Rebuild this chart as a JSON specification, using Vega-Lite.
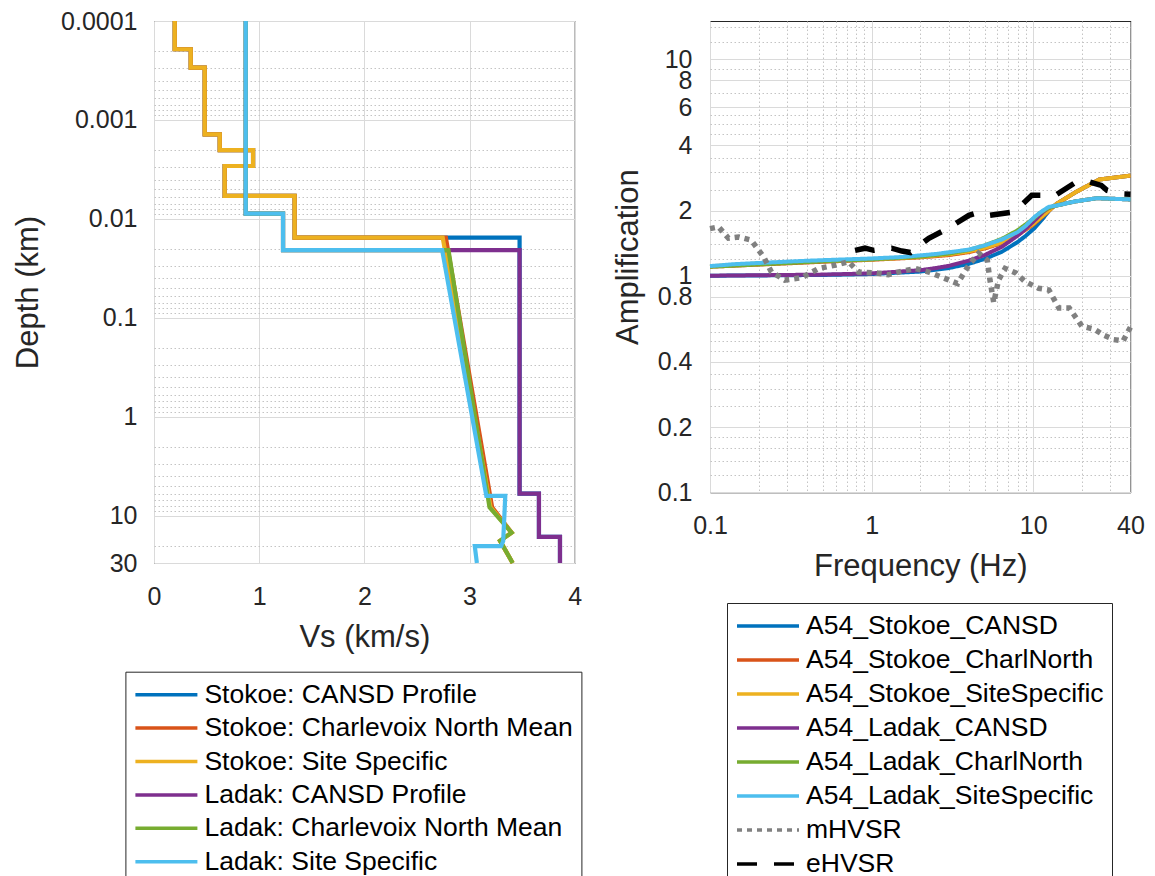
{
  "$schema": "https://vega.github.io/schema/vega-lite/v6.json",
  "background": "white",
  "padding": {"left": 12, "top": 8, "right": 5, "bottom": 0},
  "spacing": 135,
  "bounds": "flush",
  "config": {
    "font": "Liberation Sans",
    "view": {"stroke": "#262626", "strokeWidth": 1},
    "axis": {
      "labelFont": "Liberation Sans", "labelFontSize": 25, "labelColor": "#262626",
      "titleFont": "Liberation Sans", "titleFontSize": 31, "titleFontWeight": "normal", "titleColor": "#262626",
      "domain": false, "ticks": false, "tickSize": 0,
      "gridColor": "#dadada", "gridOpacity": 1, "gridWidth": 1,
      "labelOverlap": false, "labelFlush": false, "labelBound": false
    },
    "legend": {
      "labelFont": "Liberation Sans", "labelFontSize": 26.5, "labelColor": "#000000", "labelLimit": 0,
      "symbolType": "stroke", "symbolSize": 3844, "symbolStrokeWidth": 3.5,
      "clipHeight": 30, "rowPadding": 4, "padding": 8, "labelOffset": 5,
      "strokeColor": "#262626", "fillColor": "#ffffff"
    }
  },
  "datasets": {
    "prof": [
      {"p": "Stokoe: CANSD Profile", "i": 0, "vs": 0.197, "d": 0.0001},
      {"p": "Stokoe: CANSD Profile", "i": 1, "vs": 0.197, "d": 0.000193},
      {"p": "Stokoe: CANSD Profile", "i": 2, "vs": 0.349, "d": 0.000193},
      {"p": "Stokoe: CANSD Profile", "i": 3, "vs": 0.349, "d": 0.000296},
      {"p": "Stokoe: CANSD Profile", "i": 4, "vs": 0.482, "d": 0.000296},
      {"p": "Stokoe: CANSD Profile", "i": 5, "vs": 0.482, "d": 0.0014},
      {"p": "Stokoe: CANSD Profile", "i": 6, "vs": 0.625, "d": 0.0014},
      {"p": "Stokoe: CANSD Profile", "i": 7, "vs": 0.625, "d": 0.00202},
      {"p": "Stokoe: CANSD Profile", "i": 8, "vs": 0.942, "d": 0.00202},
      {"p": "Stokoe: CANSD Profile", "i": 9, "vs": 0.942, "d": 0.00292},
      {"p": "Stokoe: CANSD Profile", "i": 10, "vs": 0.672, "d": 0.00292},
      {"p": "Stokoe: CANSD Profile", "i": 11, "vs": 0.672, "d": 0.00586},
      {"p": "Stokoe: CANSD Profile", "i": 12, "vs": 1.337, "d": 0.00586},
      {"p": "Stokoe: CANSD Profile", "i": 13, "vs": 1.337, "d": 0.01545},
      {"p": "Stokoe: CANSD Profile", "i": 14, "vs": 3.476, "d": 0.01545},
      {"p": "Stokoe: CANSD Profile", "i": 15, "vs": 3.476, "d": 5.96},
      {"p": "Stokoe: CANSD Profile", "i": 16, "vs": 3.66, "d": 5.96},
      {"p": "Stokoe: CANSD Profile", "i": 17, "vs": 3.66, "d": 16.3},
      {"p": "Stokoe: CANSD Profile", "i": 18, "vs": 3.86, "d": 16.3},
      {"p": "Stokoe: CANSD Profile", "i": 19, "vs": 3.86, "d": 30},

      {"p": "Stokoe: Charlevoix North Mean", "i": 0, "vs": 0.197, "d": 0.0001},
      {"p": "Stokoe: Charlevoix North Mean", "i": 1, "vs": 0.197, "d": 0.000193},
      {"p": "Stokoe: Charlevoix North Mean", "i": 2, "vs": 0.349, "d": 0.000193},
      {"p": "Stokoe: Charlevoix North Mean", "i": 3, "vs": 0.349, "d": 0.000296},
      {"p": "Stokoe: Charlevoix North Mean", "i": 4, "vs": 0.482, "d": 0.000296},
      {"p": "Stokoe: Charlevoix North Mean", "i": 5, "vs": 0.482, "d": 0.0014},
      {"p": "Stokoe: Charlevoix North Mean", "i": 6, "vs": 0.625, "d": 0.0014},
      {"p": "Stokoe: Charlevoix North Mean", "i": 7, "vs": 0.625, "d": 0.00202},
      {"p": "Stokoe: Charlevoix North Mean", "i": 8, "vs": 0.942, "d": 0.00202},
      {"p": "Stokoe: Charlevoix North Mean", "i": 9, "vs": 0.942, "d": 0.00292},
      {"p": "Stokoe: Charlevoix North Mean", "i": 10, "vs": 0.672, "d": 0.00292},
      {"p": "Stokoe: Charlevoix North Mean", "i": 11, "vs": 0.672, "d": 0.00586},
      {"p": "Stokoe: Charlevoix North Mean", "i": 12, "vs": 1.337, "d": 0.00586},
      {"p": "Stokoe: Charlevoix North Mean", "i": 13, "vs": 1.337, "d": 0.01545},
      {"p": "Stokoe: Charlevoix North Mean", "i": 14, "vs": 2.775, "d": 0.01545},
      {"p": "Stokoe: Charlevoix North Mean", "i": 15, "vs": 3.215, "d": 8.2},
      {"p": "Stokoe: Charlevoix North Mean", "i": 16, "vs": 3.40, "d": 14.8},
      {"p": "Stokoe: Charlevoix North Mean", "i": 17, "vs": 3.29, "d": 17.9},
      {"p": "Stokoe: Charlevoix North Mean", "i": 18, "vs": 3.41, "d": 30},

      {"p": "Stokoe: Site Specific", "i": 0, "vs": 0.197, "d": 0.0001},
      {"p": "Stokoe: Site Specific", "i": 1, "vs": 0.197, "d": 0.000193},
      {"p": "Stokoe: Site Specific", "i": 2, "vs": 0.349, "d": 0.000193},
      {"p": "Stokoe: Site Specific", "i": 3, "vs": 0.349, "d": 0.000296},
      {"p": "Stokoe: Site Specific", "i": 4, "vs": 0.482, "d": 0.000296},
      {"p": "Stokoe: Site Specific", "i": 5, "vs": 0.482, "d": 0.0014},
      {"p": "Stokoe: Site Specific", "i": 6, "vs": 0.625, "d": 0.0014},
      {"p": "Stokoe: Site Specific", "i": 7, "vs": 0.625, "d": 0.00202},
      {"p": "Stokoe: Site Specific", "i": 8, "vs": 0.942, "d": 0.00202},
      {"p": "Stokoe: Site Specific", "i": 9, "vs": 0.942, "d": 0.00292},
      {"p": "Stokoe: Site Specific", "i": 10, "vs": 0.672, "d": 0.00292},
      {"p": "Stokoe: Site Specific", "i": 11, "vs": 0.672, "d": 0.00586},
      {"p": "Stokoe: Site Specific", "i": 12, "vs": 1.337, "d": 0.00586},
      {"p": "Stokoe: Site Specific", "i": 13, "vs": 1.337, "d": 0.01545},
      {"p": "Stokoe: Site Specific", "i": 14, "vs": 2.745, "d": 0.01545},
      {"p": "Stokoe: Site Specific", "i": 15, "vs": 3.20, "d": 8.2},
      {"p": "Stokoe: Site Specific", "i": 16, "vs": 3.40, "d": 14.8},
      {"p": "Stokoe: Site Specific", "i": 17, "vs": 3.29, "d": 17.9},
      {"p": "Stokoe: Site Specific", "i": 18, "vs": 3.41, "d": 30},

      {"p": "Ladak: CANSD Profile", "i": 0, "vs": 0.872, "d": 0.0001},
      {"p": "Ladak: CANSD Profile", "i": 1, "vs": 0.872, "d": 0.00883},
      {"p": "Ladak: CANSD Profile", "i": 2, "vs": 1.227, "d": 0.00883},
      {"p": "Ladak: CANSD Profile", "i": 3, "vs": 1.227, "d": 0.0207},
      {"p": "Ladak: CANSD Profile", "i": 4, "vs": 3.476, "d": 0.0207},
      {"p": "Ladak: CANSD Profile", "i": 5, "vs": 3.476, "d": 5.96},
      {"p": "Ladak: CANSD Profile", "i": 6, "vs": 3.66, "d": 5.96},
      {"p": "Ladak: CANSD Profile", "i": 7, "vs": 3.66, "d": 16.3},
      {"p": "Ladak: CANSD Profile", "i": 8, "vs": 3.86, "d": 16.3},
      {"p": "Ladak: CANSD Profile", "i": 9, "vs": 3.86, "d": 30},

      {"p": "Ladak: Charlevoix North Mean", "i": 0, "vs": 0.872, "d": 0.0001},
      {"p": "Ladak: Charlevoix North Mean", "i": 1, "vs": 0.872, "d": 0.00883},
      {"p": "Ladak: Charlevoix North Mean", "i": 2, "vs": 1.227, "d": 0.00883},
      {"p": "Ladak: Charlevoix North Mean", "i": 3, "vs": 1.227, "d": 0.0207},
      {"p": "Ladak: Charlevoix North Mean", "i": 4, "vs": 2.80, "d": 0.0207},
      {"p": "Ladak: Charlevoix North Mean", "i": 5, "vs": 3.19, "d": 8.2},
      {"p": "Ladak: Charlevoix North Mean", "i": 6, "vs": 3.40, "d": 14.8},
      {"p": "Ladak: Charlevoix North Mean", "i": 7, "vs": 3.29, "d": 17.9},
      {"p": "Ladak: Charlevoix North Mean", "i": 8, "vs": 3.41, "d": 30},

      {"p": "Ladak: Site Specific", "i": 0, "vs": 0.872, "d": 0.0001},
      {"p": "Ladak: Site Specific", "i": 1, "vs": 0.872, "d": 0.00883},
      {"p": "Ladak: Site Specific", "i": 2, "vs": 1.227, "d": 0.00883},
      {"p": "Ladak: Site Specific", "i": 3, "vs": 1.227, "d": 0.0207},
      {"p": "Ladak: Site Specific", "i": 4, "vs": 2.74, "d": 0.0207},
      {"p": "Ladak: Site Specific", "i": 5, "vs": 3.16, "d": 6.3},
      {"p": "Ladak: Site Specific", "i": 6, "vs": 3.34, "d": 6.3},
      {"p": "Ladak: Site Specific", "i": 7, "vs": 3.32, "d": 18},
      {"p": "Ladak: Site Specific", "i": 8, "vs": 3.30, "d": 20.3},
      {"p": "Ladak: Site Specific", "i": 9, "vs": 3.05, "d": 20.3},
      {"p": "Ladak: Site Specific", "i": 10, "vs": 3.07, "d": 30}
    ],
    "amp": [
      {"c": "A54_Stokoe_CANSD", "f": 0.1, "a": 1.0},
      {"c": "A54_Stokoe_CANSD", "f": 0.2, "a": 1.003},
      {"c": "A54_Stokoe_CANSD", "f": 0.5, "a": 1.008},
      {"c": "A54_Stokoe_CANSD", "f": 1, "a": 1.018},
      {"c": "A54_Stokoe_CANSD", "f": 2, "a": 1.045},
      {"c": "A54_Stokoe_CANSD", "f": 3, "a": 1.085},
      {"c": "A54_Stokoe_CANSD", "f": 4, "a": 1.135},
      {"c": "A54_Stokoe_CANSD", "f": 5, "a": 1.195},
      {"c": "A54_Stokoe_CANSD", "f": 6.4, "a": 1.29},
      {"c": "A54_Stokoe_CANSD", "f": 8, "a": 1.43},
      {"c": "A54_Stokoe_CANSD", "f": 9, "a": 1.53},
      {"c": "A54_Stokoe_CANSD", "f": 10.2, "a": 1.66},
      {"c": "A54_Stokoe_CANSD", "f": 11.5, "a": 1.84},
      {"c": "A54_Stokoe_CANSD", "f": 12.5, "a": 1.99},
      {"c": "A54_Stokoe_CANSD", "f": 13.2, "a": 2.08},
      {"c": "A54_Stokoe_CANSD", "f": 14, "a": 2.15},
      {"c": "A54_Stokoe_CANSD", "f": 18.3, "a": 2.43},
      {"c": "A54_Stokoe_CANSD", "f": 25.6, "a": 2.78},
      {"c": "A54_Stokoe_CANSD", "f": 40, "a": 2.9},

      {"c": "A54_Stokoe_CharlNorth", "f": 0.1, "a": 1.10},
      {"c": "A54_Stokoe_CharlNorth", "f": 0.5, "a": 1.16},
      {"c": "A54_Stokoe_CharlNorth", "f": 1, "a": 1.185},
      {"c": "A54_Stokoe_CharlNorth", "f": 2, "a": 1.215},
      {"c": "A54_Stokoe_CharlNorth", "f": 3, "a": 1.245},
      {"c": "A54_Stokoe_CharlNorth", "f": 4, "a": 1.285},
      {"c": "A54_Stokoe_CharlNorth", "f": 5, "a": 1.335},
      {"c": "A54_Stokoe_CharlNorth", "f": 6.4, "a": 1.415},
      {"c": "A54_Stokoe_CharlNorth", "f": 8, "a": 1.54},
      {"c": "A54_Stokoe_CharlNorth", "f": 10, "a": 1.72},
      {"c": "A54_Stokoe_CharlNorth", "f": 12, "a": 1.94},
      {"c": "A54_Stokoe_CharlNorth", "f": 14, "a": 2.15},
      {"c": "A54_Stokoe_CharlNorth", "f": 18.3, "a": 2.43},
      {"c": "A54_Stokoe_CharlNorth", "f": 25.6, "a": 2.78},
      {"c": "A54_Stokoe_CharlNorth", "f": 40, "a": 2.9},

      {"c": "A54_Stokoe_SiteSpecific", "f": 0.1, "a": 1.105},
      {"c": "A54_Stokoe_SiteSpecific", "f": 0.2, "a": 1.14},
      {"c": "A54_Stokoe_SiteSpecific", "f": 0.5, "a": 1.17},
      {"c": "A54_Stokoe_SiteSpecific", "f": 1, "a": 1.19},
      {"c": "A54_Stokoe_SiteSpecific", "f": 2, "a": 1.22},
      {"c": "A54_Stokoe_SiteSpecific", "f": 3, "a": 1.255},
      {"c": "A54_Stokoe_SiteSpecific", "f": 4, "a": 1.295},
      {"c": "A54_Stokoe_SiteSpecific", "f": 5, "a": 1.345},
      {"c": "A54_Stokoe_SiteSpecific", "f": 6.4, "a": 1.425},
      {"c": "A54_Stokoe_SiteSpecific", "f": 8, "a": 1.555},
      {"c": "A54_Stokoe_SiteSpecific", "f": 10, "a": 1.735},
      {"c": "A54_Stokoe_SiteSpecific", "f": 12, "a": 1.95},
      {"c": "A54_Stokoe_SiteSpecific", "f": 14, "a": 2.15},
      {"c": "A54_Stokoe_SiteSpecific", "f": 18.3, "a": 2.43},
      {"c": "A54_Stokoe_SiteSpecific", "f": 25.6, "a": 2.78},
      {"c": "A54_Stokoe_SiteSpecific", "f": 40, "a": 2.9},

      {"c": "A54_Ladak_CANSD", "f": 0.1, "a": 1.0},
      {"c": "A54_Ladak_CANSD", "f": 0.2, "a": 1.005},
      {"c": "A54_Ladak_CANSD", "f": 0.5, "a": 1.012},
      {"c": "A54_Ladak_CANSD", "f": 1, "a": 1.025},
      {"c": "A54_Ladak_CANSD", "f": 2, "a": 1.06},
      {"c": "A54_Ladak_CANSD", "f": 2.5, "a": 1.085},
      {"c": "A54_Ladak_CANSD", "f": 3, "a": 1.11},
      {"c": "A54_Ladak_CANSD", "f": 4, "a": 1.175},
      {"c": "A54_Ladak_CANSD", "f": 5, "a": 1.245},
      {"c": "A54_Ladak_CANSD", "f": 6.4, "a": 1.36},
      {"c": "A54_Ladak_CANSD", "f": 8, "a": 1.53},
      {"c": "A54_Ladak_CANSD", "f": 9, "a": 1.65},
      {"c": "A54_Ladak_CANSD", "f": 10.2, "a": 1.80},
      {"c": "A54_Ladak_CANSD", "f": 11.6, "a": 1.98},
      {"c": "A54_Ladak_CANSD", "f": 12.5, "a": 2.06},
      {"c": "A54_Ladak_CANSD", "f": 14, "a": 2.11},
      {"c": "A54_Ladak_CANSD", "f": 18, "a": 2.20},
      {"c": "A54_Ladak_CANSD", "f": 24.8, "a": 2.28},
      {"c": "A54_Ladak_CANSD", "f": 40, "a": 2.25},

      {"c": "A54_Ladak_CharlNorth", "f": 0.1, "a": 1.10},
      {"c": "A54_Ladak_CharlNorth", "f": 0.5, "a": 1.165},
      {"c": "A54_Ladak_CharlNorth", "f": 1, "a": 1.19},
      {"c": "A54_Ladak_CharlNorth", "f": 2, "a": 1.225},
      {"c": "A54_Ladak_CharlNorth", "f": 3, "a": 1.265},
      {"c": "A54_Ladak_CharlNorth", "f": 4, "a": 1.315},
      {"c": "A54_Ladak_CharlNorth", "f": 5, "a": 1.38},
      {"c": "A54_Ladak_CharlNorth", "f": 6.4, "a": 1.48},
      {"c": "A54_Ladak_CharlNorth", "f": 8, "a": 1.62},
      {"c": "A54_Ladak_CharlNorth", "f": 10, "a": 1.83},
      {"c": "A54_Ladak_CharlNorth", "f": 11, "a": 1.95},
      {"c": "A54_Ladak_CharlNorth", "f": 12.5, "a": 2.06},
      {"c": "A54_Ladak_CharlNorth", "f": 14, "a": 2.11},
      {"c": "A54_Ladak_CharlNorth", "f": 18, "a": 2.20},
      {"c": "A54_Ladak_CharlNorth", "f": 24.8, "a": 2.28},
      {"c": "A54_Ladak_CharlNorth", "f": 40, "a": 2.25},

      {"c": "A54_Ladak_SiteSpecific", "f": 0.1, "a": 1.108},
      {"c": "A54_Ladak_SiteSpecific", "f": 0.14, "a": 1.13},
      {"c": "A54_Ladak_SiteSpecific", "f": 0.2, "a": 1.145},
      {"c": "A54_Ladak_SiteSpecific", "f": 0.37, "a": 1.17},
      {"c": "A54_Ladak_SiteSpecific", "f": 0.5, "a": 1.18},
      {"c": "A54_Ladak_SiteSpecific", "f": 0.96, "a": 1.20},
      {"c": "A54_Ladak_SiteSpecific", "f": 1.54, "a": 1.22},
      {"c": "A54_Ladak_SiteSpecific", "f": 2.5, "a": 1.26},
      {"c": "A54_Ladak_SiteSpecific", "f": 4, "a": 1.32},
      {"c": "A54_Ladak_SiteSpecific", "f": 5, "a": 1.38},
      {"c": "A54_Ladak_SiteSpecific", "f": 6.4, "a": 1.47},
      {"c": "A54_Ladak_SiteSpecific", "f": 8, "a": 1.59},
      {"c": "A54_Ladak_SiteSpecific", "f": 9, "a": 1.70},
      {"c": "A54_Ladak_SiteSpecific", "f": 10.2, "a": 1.87},
      {"c": "A54_Ladak_SiteSpecific", "f": 11.5, "a": 2.0},
      {"c": "A54_Ladak_SiteSpecific", "f": 12.5, "a": 2.08},
      {"c": "A54_Ladak_SiteSpecific", "f": 14, "a": 2.11},
      {"c": "A54_Ladak_SiteSpecific", "f": 18, "a": 2.20},
      {"c": "A54_Ladak_SiteSpecific", "f": 24.8, "a": 2.28},
      {"c": "A54_Ladak_SiteSpecific", "f": 40, "a": 2.25}
    ],
    "mh": [
      {"c": "mHVSR", "f": 0.1, "a": 1.65},
      {"c": "mHVSR", "f": 0.113, "a": 1.68},
      {"c": "mHVSR", "f": 0.13, "a": 1.49},
      {"c": "mHVSR", "f": 0.15, "a": 1.51},
      {"c": "mHVSR", "f": 0.18, "a": 1.46},
      {"c": "mHVSR", "f": 0.215, "a": 1.22},
      {"c": "mHVSR", "f": 0.24, "a": 1.04},
      {"c": "mHVSR", "f": 0.29, "a": 0.955},
      {"c": "mHVSR", "f": 0.37, "a": 0.98},
      {"c": "mHVSR", "f": 0.47, "a": 1.08},
      {"c": "mHVSR", "f": 0.6, "a": 1.12},
      {"c": "mHVSR", "f": 0.72, "a": 1.16},
      {"c": "mHVSR", "f": 0.83, "a": 1.04},
      {"c": "mHVSR", "f": 1.06, "a": 1.03},
      {"c": "mHVSR", "f": 1.27, "a": 1.01},
      {"c": "mHVSR", "f": 1.54, "a": 1.05},
      {"c": "mHVSR", "f": 1.87, "a": 1.08},
      {"c": "mHVSR", "f": 2.26, "a": 1.04},
      {"c": "mHVSR", "f": 2.86, "a": 0.97},
      {"c": "mHVSR", "f": 3.4, "a": 0.92},
      {"c": "mHVSR", "f": 4.0, "a": 1.12},
      {"c": "mHVSR", "f": 4.6, "a": 1.27},
      {"c": "mHVSR", "f": 5.2, "a": 1.18},
      {"c": "mHVSR", "f": 5.4, "a": 0.955},
      {"c": "mHVSR", "f": 5.7, "a": 0.75},
      {"c": "mHVSR", "f": 6.1, "a": 0.955},
      {"c": "mHVSR", "f": 6.7, "a": 1.08},
      {"c": "mHVSR", "f": 7.8, "a": 1.03},
      {"c": "mHVSR", "f": 8.9, "a": 0.94},
      {"c": "mHVSR", "f": 10.8, "a": 0.875},
      {"c": "mHVSR", "f": 12.5, "a": 0.86},
      {"c": "mHVSR", "f": 14.4, "a": 0.71},
      {"c": "mHVSR", "f": 16.7, "a": 0.71},
      {"c": "mHVSR", "f": 20, "a": 0.585},
      {"c": "mHVSR", "f": 23.8, "a": 0.567},
      {"c": "mHVSR", "f": 27.5, "a": 0.53},
      {"c": "mHVSR", "f": 31.5, "a": 0.507},
      {"c": "mHVSR", "f": 36, "a": 0.5},
      {"c": "mHVSR", "f": 40, "a": 0.58}
    ],
    "eh": [
      {"c": "eHVSR", "f": 0.79, "a": 1.31},
      {"c": "eHVSR", "f": 0.91, "a": 1.34},
      {"c": "eHVSR", "f": 1.03, "a": 1.31},
      {"c": "eHVSR", "f": 1.33, "a": 1.34},
      {"c": "eHVSR", "f": 1.54, "a": 1.30},
      {"c": "eHVSR", "f": 1.74, "a": 1.28},
      {"c": "eHVSR", "f": 2.26, "a": 1.49},
      {"c": "eHVSR", "f": 2.95, "a": 1.65},
      {"c": "eHVSR", "f": 4.0, "a": 1.90},
      {"c": "eHVSR", "f": 4.6, "a": 1.96},
      {"c": "eHVSR", "f": 5.3, "a": 1.90},
      {"c": "eHVSR", "f": 7.6, "a": 1.97},
      {"c": "eHVSR", "f": 9.8, "a": 2.35},
      {"c": "eHVSR", "f": 13.7, "a": 2.35},
      {"c": "eHVSR", "f": 18.3, "a": 2.70},
      {"c": "eHVSR", "f": 21, "a": 2.75},
      {"c": "eHVSR", "f": 26.4, "a": 2.61},
      {"c": "eHVSR", "f": 28.6, "a": 2.48},
      {"c": "eHVSR", "f": 34.5, "a": 2.39},
      {"c": "eHVSR", "f": 40, "a": 2.38}
    ]
  },
  "hconcat": [
    {
      "width": 420.7,
      "height": 542,
      "layer": [
        {
          "data": {"name": "prof"},
          "mark": {"type": "point", "opacity": 0},
          "encoding": {
            "x": {"field": "vs", "type": "quantitative", "scale": {"domain": [0, 4], "nice": false, "zero": false}, "axis": null},
            "y": {"field": "d", "type": "quantitative",
                  "scale": {"type": "log", "domain": [0.0001, 30], "reverse": true, "nice": false},
                  "axis": {"orient": "left", "values": [0.0002,0.0003,0.0004,0.0005,0.0006,0.0007,0.0008,0.0009,0.002,0.003,0.004,0.005,0.006,0.007,0.008,0.009,0.02,0.03,0.04,0.05,0.06,0.07,0.08,0.09,0.2,0.3,0.4,0.5,0.6,0.7,0.8,0.9,2,3,4,5,6,7,8,9,20],
                           "grid": true, "gridDash": [1.5, 2.5], "gridColor": "#c4c4c4", "labels": false, "title": null}}
          }
        },
        {
          "data": {"name": "prof"},
          "mark": {"type": "line", "strokeWidth": 4.2},
          "encoding": {
            "x": {"field": "vs", "type": "quantitative", "scale": {"domain": [0, 4], "nice": false, "zero": false},
                  "axis": {"orient": "bottom", "values": [0, 1, 2, 3, 4], "format": "d", "grid": true, "labelPadding": 21, "title": "Vs (km/s)", "titlePadding": 13}},
            "y": {"field": "d", "type": "quantitative",
                  "scale": {"type": "log", "domain": [0.0001, 30], "reverse": true, "nice": false},
                  "axis": {"orient": "left", "values": [0.0001, 0.001, 0.01, 0.1, 1, 10, 30], "format": "~g", "grid": true, "labelPadding": 17, "title": "Depth (km)", "titlePadding": 16}},
            "color": {"field": "p", "type": "nominal",
                      "scale": {"domain": ["Stokoe: CANSD Profile", "Stokoe: Charlevoix North Mean", "Stokoe: Site Specific", "Ladak: CANSD Profile", "Ladak: Charlevoix North Mean", "Ladak: Site Specific"],
                                "range": ["#0072BD", "#D95319", "#EDB120", "#7E2F8E", "#77AC30", "#4DBEEE"]},
                      "legend": {"title": null, "orient": "none", "legendX": -28.6, "legendY": 650.7, "rowPadding": 3.4}},
            "order": {"field": "i", "type": "quantitative"}
          }
        }
      ],
      "resolve": {"axis": {"x": "independent", "y": "independent"}}
    },
    {
      "width": 420.5,
      "height": 471.3,
      "layer": [
        {
          "data": {"name": "amp"},
          "mark": {"type": "point", "opacity": 0},
          "encoding": {
            "x": {"field": "f", "type": "quantitative", "scale": {"type": "log", "domain": [0.1, 40], "nice": false},
                  "axis": {"orient": "bottom", "values": [0.2,0.3,0.4,0.5,0.6,0.7,0.8,0.9,2,3,4,5,6,7,8,9,20,30],
                           "grid": true, "gridDash": [1.5, 2.5], "gridColor": "#c4c4c4", "labels": false, "title": null}},
            "y": {"field": "a", "type": "quantitative", "scale": {"type": "log", "domain": [0.1, 15], "nice": false},
                  "axis": {"orient": "left", "values": [0.12,0.14,0.16,0.18,0.25,0.3,0.35,0.45,0.5,0.55,0.6,0.7,0.9,1.2,1.4,1.6,1.8,2.5,3,3.5,4.5,5,5.5,7,9,12,14],
                           "grid": true, "gridDash": [1.5, 2.5], "gridColor": "#c4c4c4", "labels": false, "title": null}}
          }
        },
        {
          "data": {"name": "amp"},
          "mark": {"type": "line", "strokeWidth": 4},
          "encoding": {
            "x": {"field": "f", "type": "quantitative", "scale": {"type": "log", "domain": [0.1, 40], "nice": false},
                  "axis": {"orient": "bottom", "values": [0.1, 1, 10, 40], "format": "~g", "grid": true, "labelPadding": 21, "title": "Frequency (Hz)", "titlePadding": 13}},
            "y": {"field": "a", "type": "quantitative", "scale": {"type": "log", "domain": [0.1, 15], "nice": false},
                  "axis": {"orient": "left", "values": [0.1, 0.2, 0.4, 0.8, 1, 2, 4, 6, 8, 10], "format": "~g", "grid": true, "labelPadding": 18, "title": "Amplification", "titlePadding": 13}},
            "color": {"field": "c", "type": "nominal",
                      "scale": {"domain": ["A54_Stokoe_CANSD", "A54_Stokoe_CharlNorth", "A54_Stokoe_SiteSpecific", "A54_Ladak_CANSD", "A54_Ladak_CharlNorth", "A54_Ladak_SiteSpecific", "mHVSR", "eHVSR"],
                                "range": ["#0072BD", "#D95319", "#EDB120", "#7E2F8E", "#77AC30", "#4DBEEE", "#808080", "#000000"]},
                      "legend": {"title": null, "orient": "none", "legendX": 17, "legendY": 582}},
            "strokeDash": {"field": "c", "type": "nominal",
                      "scale": {"domain": ["A54_Stokoe_CANSD", "A54_Stokoe_CharlNorth", "A54_Stokoe_SiteSpecific", "A54_Ladak_CANSD", "A54_Ladak_CharlNorth", "A54_Ladak_SiteSpecific", "mHVSR", "eHVSR"],
                                "range": [[1, 0], [1, 0], [1, 0], [1, 0], [1, 0], [1, 0], [5, 5], [20, 17]]},
                      "legend": {"title": null, "orient": "none", "legendX": 17, "legendY": 582}}
          }
        },
        {
          "data": {"name": "mh"},
          "mark": {"type": "line", "strokeWidth": 5.5},
          "encoding": {
            "x": {"field": "f", "type": "quantitative", "axis": null},
            "y": {"field": "a", "type": "quantitative", "axis": null},
            "color": {"field": "c", "type": "nominal"},
            "strokeDash": {"field": "c", "type": "nominal"}
          }
        },
        {
          "data": {"name": "eh"},
          "mark": {"type": "line", "strokeWidth": 5.5},
          "encoding": {
            "x": {"field": "f", "type": "quantitative", "axis": null},
            "y": {"field": "a", "type": "quantitative", "axis": null},
            "color": {"field": "c", "type": "nominal"},
            "strokeDash": {"field": "c", "type": "nominal"}
          }
        }
      ],
      "resolve": {"axis": {"x": "independent", "y": "independent"}}
    }
  ],
  "resolve": {
    "scale": {"x": "independent", "y": "independent", "color": "independent", "strokeDash": "independent"},
    "axis": {"x": "independent", "y": "independent"},
    "legend": {"color": "independent", "strokeDash": "independent"}
  }
}
